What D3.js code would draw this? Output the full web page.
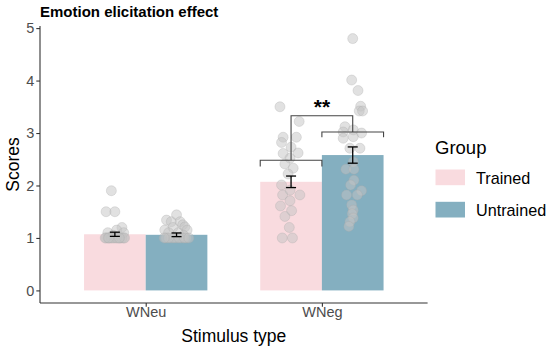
<!DOCTYPE html>
<html>
<head>
<meta charset="utf-8">
<script src="https://d3js.org/d3.v7.min.js"></script>
<style>
  body { margin: 0; background: #fff; }
  text { font-family: "Liberation Sans", Arial, sans-serif; }
</style>
</head>
<body>
<div class="chart"></div>
<script>
const width = 550;
const height = 347;

// data
const stimuli = ["WNeu", "WNeg"];
const groups = ["Trained", "Untrained"];
const meanTrained = [1.07, 2.07];
const meanUntrained = [1.06, 2.58];
const seTrained = [0.04, 0.11];
const seUntrained = [0.035, 0.155];
const yTicks = [0, 1, 2, 3, 4, 5];

// individual scores: [score, jitter in category units]
const ptsNeuTrained = [[1.9,-0.02],[1.5,-0.05],[1.5,0.0],[1.2,0.04],[1.15,0.01],[1.1,-0.04],[1.1,0.05],[1.05,-0.01],
  [1.0,-0.05],[1.0,-0.03],[1.0,0.0],[1.0,0.03],[1.0,0.05],[1.0,-0.04],[1.0,0.02],[1.0,-0.01],[1.0,0.04],
  [1.0,-0.02],[1.0,0.01],[1.0,0.055],[1.0,-0.055],[1.0,0.025],[1.0,-0.035]];
const ptsNeuUntrained = [[1.44,0.0],[1.34,-0.057],[1.31,0.02],[1.31,-0.03],[1.25,0.035],[1.21,0.047],[1.2,-0.02],
  [1.15,-0.067],[1.15,0.06],[1.1,-0.045],[1.1,0.01],[1.05,0.04],[1.0,-0.06],[1.0,-0.03],[1.0,0.0],[1.0,0.03],
  [1.0,0.055],[1.0,-0.015],[1.0,0.015],[1.0,-0.045],[1.0,0.045],[1.0,-0.07],[1.0,0.07]];
const ptsNegTrained = [[3.5,-0.063],[3.22,0.046],[2.92,-0.045],[2.92,0.03],[2.82,-0.054],[2.73,0.0],[2.62,0.04],
  [2.61,-0.045],[2.52,-0.006],[2.41,-0.035],[2.33,0.012],[2.22,-0.017],[2.01,-0.054],[1.91,-0.006],[1.82,-0.048],
  [1.82,0.05],[1.71,-0.006],[1.61,-0.06],[1.52,0.003],[1.41,-0.035],[1.2,-0.01],[1.0,-0.05],[1.0,0.008]];
const ptsNegUntrained = [[4.8,0.0],[4.01,-0.006],[3.81,0.03],[3.51,0.045],[3.42,0.037],[3.42,0.056],[3.12,-0.044],
  [3.06,0.003],[3.02,-0.054],[3.0,0.05],[2.93,0.003],[2.9,-0.054],[2.71,-0.016],[2.71,0.041],[2.45,0.003],
  [2.31,-0.039],[2.31,0.007],[2.1,0.007],[2.01,-0.012],[1.9,0.05],[1.82,-0.035],[1.82,0.026],[1.63,-0.006],
  [1.53,0.003],[1.46,-0.003],[1.38,0.003],[1.31,-0.016],[1.22,-0.022]];

// significance brackets (WNeg): level, tip
const bracketTrained = [2.48, 2.36];
const bracketUntrained = [3.02, 2.92];
const bracketTop = 3.33;
const sigLabel = "**";

const colors = { Trained: "#f9dbdf", Untrained: "#84afc0" };

const svg = d3.select('.chart')
    .append('svg')
    .attr('width', width)
    .attr('height', height);

const x = d3.scalePoint()
    .domain(stimuli)
    .range([40, 427.6])
    .padding(0.6);
const step = x.step();
const xSub = d3.scaleBand()
    .domain(groups)
    .range([-0.35 * step, 0.35 * step]);
const y = d3.scaleLinear()
    .domain([-0.24, 5.04])
    .range([303, 26]);

// long table for bars
const bars = [];
stimuli.forEach(function(s, i) {
    bars.push({ stim: s, group: "Trained", mean: meanTrained[i], se: seTrained[i] });
    bars.push({ stim: s, group: "Untrained", mean: meanUntrained[i], se: seUntrained[i] });
});
const points = [];
[[ptsNeuTrained, "WNeu", "Trained"], [ptsNeuUntrained, "WNeu", "Untrained"],
 [ptsNegTrained, "WNeg", "Trained"], [ptsNegUntrained, "WNeg", "Untrained"]].forEach(function(p) {
    p[0].forEach(function(d) {
        points.push({ stim: p[1], group: p[2], v: d[0], j: d[1] });
    });
});
function cx(d) {
    return x(d.stim) + xSub(d.group) + xSub.bandwidth() / 2;
}

svg.selectAll(".bar")
    .data(bars)
    .enter()
    .append("rect")
    .attr("class", "bar")
    .attr("x", function(d) { return x(d.stim) + xSub(d.group); })
    .attr("y", function(d) { return y(d.mean); })
    .attr("width", xSub.bandwidth())
    .attr("height", function(d) { return y(0) - y(d.mean); })
    .attr("fill", function(d) { return colors[d.group]; });

svg.selectAll(".pt")
    .data(points)
    .enter()
    .append("circle")
    .attr("class", "pt")
    .attr("cx", function(d) { return cx(d) + d.j * step; })
    .attr("cy", function(d) { return y(d.v); })
    .attr("r", 5)
    .attr("fill", "#c4c4c4")
    .attr("fill-opacity", 0.5)
    .attr("stroke", "#a8a8a8")
    .attr("stroke-opacity", 0.3);

// error bars
const eb = svg.selectAll(".eb")
    .data(bars)
    .enter()
    .append("g")
    .attr("class", "eb")
    .attr("stroke", "#000")
    .attr("stroke-width", 1.3);
eb.append("line")
    .attr("x1", cx).attr("x2", cx)
    .attr("y1", function(d) { return y(d.mean - d.se); })
    .attr("y2", function(d) { return y(d.mean + d.se); });
eb.append("line")
    .attr("x1", function(d) { return cx(d) - 5; }).attr("x2", function(d) { return cx(d) + 5; })
    .attr("y1", function(d) { return y(d.mean - d.se); })
    .attr("y2", function(d) { return y(d.mean - d.se); });
eb.append("line")
    .attr("x1", function(d) { return cx(d) - 5; }).attr("x2", function(d) { return cx(d) + 5; })
    .attr("y1", function(d) { return y(d.mean + d.se); })
    .attr("y2", function(d) { return y(d.mean + d.se); });

// brackets
const tL = x("WNeg") + xSub("Trained");
const tR = tL + xSub.bandwidth();
const uL = x("WNeg") + xSub("Untrained");
const uR = uL + xSub.bandwidth();
const tC = (tL + tR) / 2;
const uC = (uL + uR) / 2;
const line = d3.line();
const brk = svg.append("g")
    .attr("fill", "none")
    .attr("stroke", "#444")
    .attr("stroke-width", 1.1);
brk.append("path").attr("d", line([[tL, y(bracketTrained[1])], [tL, y(bracketTrained[0])], [tR, y(bracketTrained[0])], [tR, y(bracketTrained[1])]]));
brk.append("path").attr("d", line([[uL, y(bracketUntrained[1])], [uL, y(bracketUntrained[0])], [uR, y(bracketUntrained[0])], [uR, y(bracketUntrained[1])]]));
brk.append("path").attr("d", line([[tC, y(bracketTrained[0])], [tC, y(bracketTop)], [uC, y(bracketTop)], [uC, y(bracketUntrained[0])]]));
svg.append("text")
    .attr("x", (tC + uC) / 2)
    .attr("y", y(bracketTop) - 2)
    .attr("text-anchor", "middle")
    .attr("font-size", 21)
    .attr("font-weight", "bold")
    .text(sigLabel);

// axes
const yAxis = svg.append("g")
    .attr("transform", "translate(40,0)")
    .call(d3.axisLeft(y).tickValues(yTicks).tickFormat(d3.format("d")).tickSize(3.7).tickPadding(2));
const xAxis = svg.append("g")
    .attr("transform", "translate(0,303)")
    .call(d3.axisBottom(x).tickSize(3.7).tickPadding(0.5));
[yAxis, xAxis].forEach(function(a) {
    a.select(".domain").attr("stroke", "#333").attr("stroke-width", 1.1);
    a.selectAll(".tick line").attr("stroke", "#333").attr("stroke-width", 1.1);
    a.selectAll(".tick text")
        .attr("fill", "#4d4d4d")
        .attr("font-size", 14.5)
        .attr("font-family", "Liberation Sans, Arial, sans-serif");
});
// remove the end caps d3 adds to the domain path
yAxis.select(".domain").attr("d", "M0,303V26");
xAxis.select(".domain").attr("d", "M40,0H427.6");

svg.append("text")
    .attr("x", 40)
    .attr("y", 17)
    .attr("font-size", 15)
    .attr("font-weight", "bold")
    .text("Emotion elicitation effect");

svg.append("text")
    .attr("x", (40 + 427.6) / 2)
    .attr("y", 341.5)
    .attr("text-anchor", "middle")
    .attr("font-size", 17.5)
    .text("Stimulus type");

svg.append("text")
    .attr("transform", "translate(19,164.5) rotate(-90)")
    .attr("text-anchor", "middle")
    .attr("font-size", 17.5)
    .text("Scores");

// legend
const legend = svg.append("g");
legend.append("text")
    .attr("x", 435)
    .attr("y", 154)
    .attr("font-size", 18.5)
    .text("Group");
const items = legend.selectAll(".item")
    .data(groups)
    .enter()
    .append("g")
    .attr("class", "item")
    .attr("transform", function(d, i) { return "translate(435.5," + (169.5 + i * 32.3) + ")"; });
items.append("rect")
    .attr("width", 29.5)
    .attr("height", 15.7)
    .attr("fill", function(d) { return colors[d]; });
items.append("text")
    .attr("x", 40.5)
    .attr("y", 14.3)
    .attr("font-size", 16.2)
    .text(function(d) { return d; });
</script>
</body>
</html>
